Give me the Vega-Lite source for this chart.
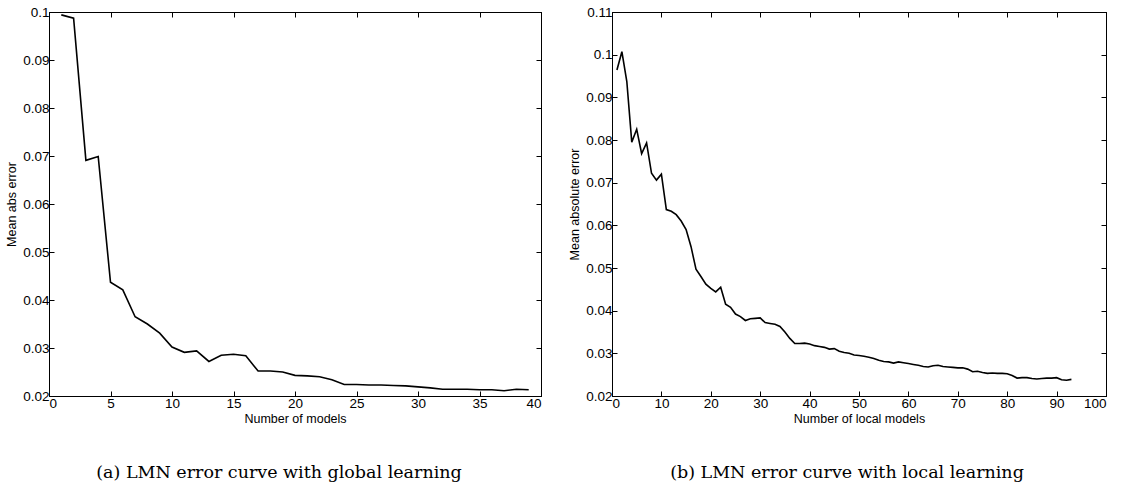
{
  "$schema": "https://vega.github.io/schema/vega-lite/v6.json",
  "background": "white",
  "padding": {"left": 5, "top": 4, "right": 5, "bottom": 5},
  "bounds": "flush",
  "spacing": 71,
  "config": {
    "view": {"stroke": "black", "strokeWidth": 1},
    "axis": {
      "grid": false,
      "domainColor": "black",
      "tickColor": "black",
      "labelColor": "black",
      "titleColor": "black",
      "labelFont": "Liberation Sans",
      "titleFont": "Liberation Sans",
      "labelFontSize": 13.5,
      "titleFontSize": 12.5,
      "titleFontWeight": "normal",
      "tickSize": -5,
      "labelPadding": 5
    },
    "title": {
      "font": "DejaVu Serif",
      "fontSize": 17.5,
      "fontWeight": "normal",
      "color": "black",
      "orient": "bottom",
      "offset": 39
    }
  },
  "datasets": {
    "global": [
      {"n": 1, "e": 0.0994}, {"n": 2, "e": 0.0987}, {"n": 3, "e": 0.0691}, {"n": 4, "e": 0.0699},
      {"n": 5, "e": 0.0437}, {"n": 6, "e": 0.0421}, {"n": 7, "e": 0.0365}, {"n": 8, "e": 0.035},
      {"n": 9, "e": 0.0331}, {"n": 10, "e": 0.0302}, {"n": 11, "e": 0.0291}, {"n": 12, "e": 0.0294},
      {"n": 13, "e": 0.0272}, {"n": 14, "e": 0.0285}, {"n": 15, "e": 0.0287}, {"n": 16, "e": 0.0284},
      {"n": 17, "e": 0.0252}, {"n": 18, "e": 0.0252}, {"n": 19, "e": 0.025}, {"n": 20, "e": 0.0243},
      {"n": 21, "e": 0.0242}, {"n": 22, "e": 0.024}, {"n": 23, "e": 0.0234}, {"n": 24, "e": 0.0224},
      {"n": 25, "e": 0.0224}, {"n": 26, "e": 0.0223}, {"n": 27, "e": 0.0223}, {"n": 28, "e": 0.0222},
      {"n": 29, "e": 0.0221}, {"n": 30, "e": 0.0219}, {"n": 31, "e": 0.0217}, {"n": 32, "e": 0.0214},
      {"n": 33, "e": 0.0214}, {"n": 34, "e": 0.0214}, {"n": 35, "e": 0.0213}, {"n": 36, "e": 0.0213},
      {"n": 37, "e": 0.0211}, {"n": 38, "e": 0.0214}, {"n": 39, "e": 0.0213}
    ],
    "local": [
      {"n": 1, "e": 0.0964}, {"n": 2, "e": 0.1007}, {"n": 3, "e": 0.0937}, {"n": 4, "e": 0.0795},
      {"n": 5, "e": 0.0825}, {"n": 6, "e": 0.0768}, {"n": 7, "e": 0.0793}, {"n": 8, "e": 0.0722},
      {"n": 9, "e": 0.0706}, {"n": 10, "e": 0.072}, {"n": 11, "e": 0.0637}, {"n": 12, "e": 0.0633},
      {"n": 13, "e": 0.0625}, {"n": 14, "e": 0.061}, {"n": 15, "e": 0.059}, {"n": 16, "e": 0.055},
      {"n": 17, "e": 0.0497}, {"n": 18, "e": 0.048}, {"n": 19, "e": 0.0462}, {"n": 20, "e": 0.0452},
      {"n": 21, "e": 0.0444}, {"n": 22, "e": 0.0455}, {"n": 23, "e": 0.0415}, {"n": 24, "e": 0.0408},
      {"n": 25, "e": 0.0392}, {"n": 26, "e": 0.0386}, {"n": 27, "e": 0.0377}, {"n": 28, "e": 0.0381},
      {"n": 29, "e": 0.0382}, {"n": 30, "e": 0.0383}, {"n": 31, "e": 0.0372}, {"n": 32, "e": 0.037},
      {"n": 33, "e": 0.0368}, {"n": 34, "e": 0.0363}, {"n": 35, "e": 0.035}, {"n": 36, "e": 0.0335},
      {"n": 37, "e": 0.0323}, {"n": 38, "e": 0.0323}, {"n": 39, "e": 0.0324}, {"n": 40, "e": 0.0322},
      {"n": 41, "e": 0.0318}, {"n": 42, "e": 0.0316}, {"n": 43, "e": 0.0314}, {"n": 44, "e": 0.031},
      {"n": 45, "e": 0.0311}, {"n": 46, "e": 0.0305}, {"n": 47, "e": 0.0302}, {"n": 48, "e": 0.03},
      {"n": 49, "e": 0.0296}, {"n": 50, "e": 0.0295}, {"n": 51, "e": 0.0293}, {"n": 52, "e": 0.0291},
      {"n": 53, "e": 0.0288}, {"n": 54, "e": 0.0284}, {"n": 55, "e": 0.0281}, {"n": 56, "e": 0.028},
      {"n": 57, "e": 0.0277}, {"n": 58, "e": 0.028}, {"n": 59, "e": 0.0278}, {"n": 60, "e": 0.0276},
      {"n": 61, "e": 0.0274}, {"n": 62, "e": 0.0272}, {"n": 63, "e": 0.0269}, {"n": 64, "e": 0.0268},
      {"n": 65, "e": 0.0271}, {"n": 66, "e": 0.0272}, {"n": 67, "e": 0.0269}, {"n": 68, "e": 0.0268},
      {"n": 69, "e": 0.0267}, {"n": 70, "e": 0.0266}, {"n": 71, "e": 0.0266}, {"n": 72, "e": 0.0263},
      {"n": 73, "e": 0.0257}, {"n": 74, "e": 0.0258}, {"n": 75, "e": 0.0255}, {"n": 76, "e": 0.0253},
      {"n": 77, "e": 0.0254}, {"n": 78, "e": 0.0253}, {"n": 79, "e": 0.0253}, {"n": 80, "e": 0.0252},
      {"n": 81, "e": 0.0248}, {"n": 82, "e": 0.0242}, {"n": 83, "e": 0.0243}, {"n": 84, "e": 0.0243},
      {"n": 85, "e": 0.0241}, {"n": 86, "e": 0.024}, {"n": 87, "e": 0.0241}, {"n": 88, "e": 0.0242},
      {"n": 89, "e": 0.0242}, {"n": 90, "e": 0.0243}, {"n": 91, "e": 0.0238}, {"n": 92, "e": 0.0237},
      {"n": 93, "e": 0.0239}
    ]
  },
  "hconcat": [
    {
      "width": 492,
      "height": 384,
      "data": {"name": "global"},
      "title": {"text": "(a) LMN error curve with global learning", "dx": -16},
      "resolve": {"axis": {"x": "independent", "y": "independent"}},
      "layer": [
        {
          "mark": {"type": "line", "color": "black", "strokeWidth": 1.6},
          "encoding": {
            "x": {"field": "n", "type": "quantitative", "scale": {"domain": [0, 40], "nice": false},
                  "axis": {"title": "Number of models", "values": [0, 5, 10, 15, 20, 25, 30, 35, 40], "titlePadding": 3}},
            "y": {"field": "e", "type": "quantitative", "scale": {"domain": [0.02, 0.1], "nice": false, "zero": false},
                  "axis": {"title": "Mean abs error", "values": [0.02, 0.03, 0.04, 0.05, 0.06, 0.07, 0.08, 0.09, 0.1], "format": "~g", "titlePadding": 4}}
          }
        },
        {
          "mark": {"type": "line", "strokeOpacity": 0},
          "encoding": {
            "x": {"field": "n", "type": "quantitative",
                  "axis": {"orient": "top", "title": null, "labels": false, "values": [0, 5, 10, 15, 20, 25, 30, 35, 40]}},
            "y": {"field": "e", "type": "quantitative",
                  "axis": {"orient": "right", "title": null, "labels": false, "values": [0.02, 0.03, 0.04, 0.05, 0.06, 0.07, 0.08, 0.09, 0.1]}}
          }
        }
      ]
    },
    {
      "width": 494,
      "height": 384,
      "data": {"name": "local"},
      "title": {"text": "(b) LMN error curve with local learning", "dx": -12},
      "resolve": {"axis": {"x": "independent", "y": "independent"}},
      "layer": [
        {
          "mark": {"type": "line", "color": "black", "strokeWidth": 1.6},
          "encoding": {
            "x": {"field": "n", "type": "quantitative", "scale": {"domain": [0, 100], "nice": false},
                  "axis": {"title": "Number of local models", "values": [0, 10, 20, 30, 40, 50, 60, 70, 80, 90, 100], "titlePadding": 3}},
            "y": {"field": "e", "type": "quantitative", "scale": {"domain": [0.02, 0.11], "nice": false, "zero": false},
                  "axis": {"title": "Mean absolute error", "values": [0.02, 0.03, 0.04, 0.05, 0.06, 0.07, 0.08, 0.09, 0.1, 0.11], "format": "~g", "titlePadding": 4}}
          }
        },
        {
          "mark": {"type": "line", "strokeOpacity": 0},
          "encoding": {
            "x": {"field": "n", "type": "quantitative",
                  "axis": {"orient": "top", "title": null, "labels": false, "values": [0, 10, 20, 30, 40, 50, 60, 70, 80, 90, 100]}},
            "y": {"field": "e", "type": "quantitative",
                  "axis": {"orient": "right", "title": null, "labels": false, "values": [0.02, 0.03, 0.04, 0.05, 0.06, 0.07, 0.08, 0.09, 0.1, 0.11]}}
          }
        }
      ]
    }
  ]
}
